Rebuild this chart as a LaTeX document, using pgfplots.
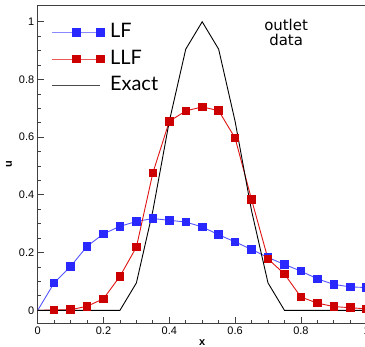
\documentclass[border=0pt]{standalone}
\usepackage{pgfplots}
\pgfplotsset{compat=1.18}
\usepackage{fontspec}
\setmainfont{Liberation Sans}
\newfontfamily\legfont{Lato}
\newfontfamily\notefont{DejaVu Sans}
\definecolor{lfblue}{RGB}{40,40,255}
\definecolor{lfline}{RGB}{85,85,255}
\definecolor{llfred}{RGB}{204,0,0}
\definecolor{llfline}{RGB}{225,20,20}
\begin{document}
\begin{tikzpicture}[x=1bp,y=1bp]
\begin{axis}[
  at={(0,0)}, anchor=south west,
  scale only axis, width=329bp, height=317.4bp,
  xmin=0, xmax=1, ymin=-0.045, ymax=1.055,
  xtick={0,0.2,0.4,0.6,0.8,1},
  ytick={0,0.2,0.4,0.6,0.8,1},
  minor tick num=3,
  tick align=inside, tick pos=left,
  major tick length=6bp, minor tick length=3.5bp,
  axis line style={draw=black!75, line width=1bp},
  every tick/.style={black!75, line width=0.8bp},
  ticklabel style={font=\fontsize{11}{13}\selectfont},
  /pgf/number format/assume math mode=true,
  xlabel={\textbf{x}}, ylabel={\textbf{u}},
  label style={font=\fontsize{11}{13}\selectfont},
  xlabel style={yshift=2bp},
  legend cell align=left,
  legend image code/.code={\draw[mark repeat=2,mark phase=2,#1,draw opacity=0.7] plot coordinates {(0bp,0bp) (24bp,0bp) (48bp,0bp)};},
  legend style={draw=none, fill=none, at={(axis description cs:0,1)}, anchor=north west,
    xshift=14bp, yshift=-16.5bp, inner sep=0pt,
    font=\legfont\fontsize{20}{24}\selectfont, row sep=6.5bp,
    nodes={inner sep=0pt, text height=15bp, text depth=5bp},
    /tikz/column 2/.style={column sep=0pt}, /tikz/column 1/.style={column sep=6bp}},
]
\addplot[color=lfline, line width=0.9bp, mark=square*, mark size=3.8bp,
  mark options={fill=lfblue, draw=lfblue, solid, draw opacity=1}, mark indices={2,...,21}] coordinates {
(0,0) (0.05,0.095) (0.10,0.152) (0.15,0.222) (0.20,0.265) (0.25,0.291) (0.30,0.308)
(0.35,0.318) (0.40,0.312) (0.45,0.306) (0.50,0.289) (0.55,0.262) (0.60,0.237)
(0.65,0.211) (0.70,0.183) (0.75,0.159) (0.80,0.136) (0.85,0.109) (0.90,0.090)
(0.95,0.081) (1.00,0.079)};
\addlegendentry{LF}
\addplot[color=llfline, line width=0.9bp, mark=square*, mark size=3.8bp,
  mark options={fill=llfred, draw=llfred, solid, draw opacity=1}, mark indices={2,...,21}] coordinates {
(0,0) (0.05,0.001) (0.10,0.002) (0.15,0.014) (0.20,0.040) (0.25,0.118) (0.30,0.219)
(0.35,0.476) (0.40,0.655) (0.45,0.691) (0.50,0.705) (0.55,0.692) (0.60,0.597)
(0.65,0.384) (0.70,0.178) (0.75,0.126) (0.80,0.046) (0.85,0.025) (0.90,0.013)
(0.95,0.009) (1.00,0.005)};
\addlegendentry{LLF}
\addplot[color=black, line width=0.9bp] coordinates {
(0,0) (0.05,0) (0.10,0) (0.15,0) (0.20,0) (0.25,0) (0.30,0.095) (0.35,0.345)
(0.40,0.655) (0.45,0.905) (0.50,1.0) (0.55,0.905) (0.60,0.655) (0.65,0.345)
(0.70,0.095) (0.75,0) (0.80,0) (0.85,0) (0.90,0) (0.95,0) (1.00,0)};
\addlegendentry{Exact}
\node[align=center, font=\notefont\fontsize{15}{15}\selectfont, inner sep=0pt]
  at (axis cs:0.755,0.964) {outlet\\data};
\end{axis}
\pgfresetboundingbox
\useasboundingbox (-37.7,-23.7) rectangle (327.3,323.3);
\end{tikzpicture}
\end{document}
